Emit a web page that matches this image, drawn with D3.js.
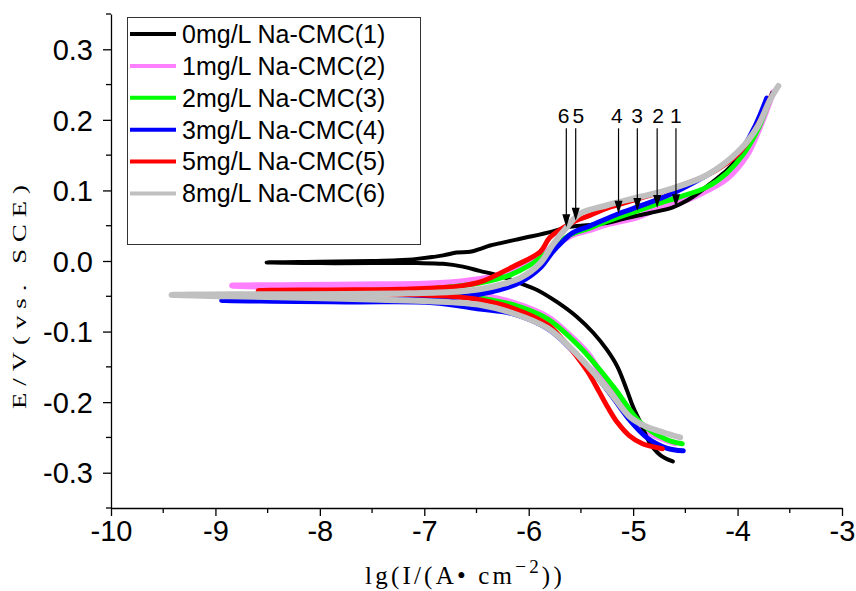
<!DOCTYPE html>
<html><head><meta charset="utf-8">
<script src="https://cdn.jsdelivr.net/npm/d3@7"></script>
<style>body{margin:0;background:#fff}svg{display:block}</style>
</head><body>
<svg id="c" width="856" height="591"></svg>
<script>
// ---- data ----
const xTickValues = [-10,-9,-8,-7,-6,-5,-4,-3];
const xTickLabels = ["-10","-9","-8","-7","-6","-5","-4","-3"];
const yTickValues = [-0.3,-0.2,-0.1,0,0.1,0.2,0.3];
const yTickLabels = ["-0.3","-0.2","-0.1","0.0","0.1","0.2","0.3"];
const seriesNames = ["0mg/L Na-CMC(1)","1mg/L Na-CMC(2)","2mg/L Na-CMC(3)","3mg/L Na-CMC(4)","5mg/L Na-CMC(5)","8mg/L Na-CMC(6)"];
const seriesColors = ["#000000","#ff80ff","#00ff00","#0000ff","#ff0000","#c0c0c0"];

const s1 = [[-4.62,-0.284],[-4.74,-0.275],[-4.84,-0.258],[-4.93,-0.229],[-5.00,-0.207],[-5.06,-0.183],[-5.15,-0.150],[-5.25,-0.126],[-5.38,-0.102],[-5.54,-0.079],[-5.73,-0.058],[-5.92,-0.041],[-6.11,-0.030],[-6.30,-0.020],[-6.47,-0.014],[-6.63,-0.008],[-6.82,-0.004],[-7.07,-0.003],[-7.50,-0.003],[-8.00,-0.003],[-8.51,-0.002],
[-8.00,-0.001],[-7.50,0.000],[-7.26,0.001],[-7.07,0.003],[-6.82,0.008],[-6.69,0.012],[-6.56,0.013],[-6.45,0.018],[-6.37,0.022],[-6.28,0.025],[-6.13,0.030],[-5.97,0.035],[-5.77,0.042],[-5.63,0.048],[-5.41,0.051],[-5.22,0.055],[-5.06,0.061],[-4.84,0.068],[-4.62,0.076],[-4.48,0.086],[-4.36,0.098],[-4.24,0.112],[-4.10,0.129],[-4.01,0.143],[-3.88,0.167],[-3.79,0.192],[-3.71,0.221],[-3.67,0.238]];
const s2 = [[-4.60,-0.258],[-4.81,-0.246],[-4.96,-0.229],[-5.13,-0.201],[-5.29,-0.164],[-5.44,-0.130],[-5.63,-0.102],[-5.82,-0.079],[-6.15,-0.059],[-6.37,-0.051],[-6.59,-0.044],[-6.95,-0.040],[-7.42,-0.038],[-8.19,-0.037],[-8.84,-0.035],
[-8.19,-0.034],[-7.42,-0.033],[-6.95,-0.032],[-6.59,-0.028],[-6.37,-0.023],[-6.18,-0.014],[-5.99,-0.001],[-5.84,0.013],[-5.72,0.025],[-5.58,0.037],[-5.41,0.044],[-5.25,0.052],[-4.96,0.062],[-4.77,0.074],[-4.55,0.083],[-4.36,0.095],[-4.10,0.117],[-3.91,0.150],[-3.79,0.188],[-3.66,0.239]];
const s3 = [[-4.53,-0.259],[-4.68,-0.253],[-4.93,-0.229],[-5.19,-0.178],[-5.51,-0.122],[-5.82,-0.082],[-6.15,-0.062],[-6.37,-0.055],[-6.59,-0.050],[-7.04,-0.047],[-7.71,-0.045],[-8.33,-0.044],
[-7.71,-0.042],[-7.04,-0.040],[-6.59,-0.034],[-6.37,-0.028],[-6.18,-0.020],[-5.99,-0.006],[-5.84,0.010],[-5.72,0.024],[-5.63,0.035],[-5.41,0.047],[-5.22,0.058],[-4.96,0.071],[-4.77,0.081],[-4.55,0.091],[-4.29,0.105],[-4.10,0.125],[-3.95,0.150],[-3.81,0.185],[-3.69,0.229]];
const s4 = [[-4.52,-0.269],[-4.68,-0.265],[-4.87,-0.250],[-5.03,-0.226],[-5.19,-0.194],[-5.38,-0.158],[-5.58,-0.127],[-5.82,-0.096],[-6.15,-0.075],[-6.47,-0.068],[-6.92,-0.059],[-7.71,-0.058],[-8.94,-0.056],
[-8.19,-0.056],[-7.23,-0.055],[-6.75,-0.052],[-6.47,-0.047],[-6.28,-0.041],[-6.08,-0.030],[-5.89,-0.010],[-5.77,0.013],[-5.68,0.027],[-5.58,0.040],[-5.41,0.050],[-5.14,0.067],[-4.93,0.078],[-4.62,0.096],[-4.36,0.116],[-4.17,0.133],[-3.98,0.154],[-3.83,0.192],[-3.72,0.231]];
const s5 = [[-4.72,-0.266],[-4.91,-0.259],[-5.04,-0.247],[-5.15,-0.229],[-5.24,-0.208],[-5.33,-0.184],[-5.43,-0.158],[-5.55,-0.133],[-5.67,-0.112],[-5.82,-0.090],[-6.15,-0.067],[-6.47,-0.055],[-6.75,-0.050],[-7.23,-0.047],[-7.90,-0.045],[-8.59,-0.042],
[-7.90,-0.041],[-7.23,-0.040],[-6.75,-0.037],[-6.47,-0.030],[-6.15,-0.008],[-5.89,0.013],[-5.80,0.033],[-5.67,0.047],[-5.55,0.057],[-5.41,0.065],[-5.25,0.075],[-4.93,0.089],[-4.62,0.103],[-4.29,0.122],[-4.10,0.139],[-3.98,0.154],[-3.85,0.181],[-3.72,0.218],[-3.68,0.233]];
const s6 = [[-4.55,-0.250],[-4.71,-0.243],[-4.87,-0.235],[-5.03,-0.221],[-5.19,-0.192],[-5.38,-0.158],[-5.58,-0.126],[-5.82,-0.095],[-6.15,-0.074],[-6.47,-0.062],[-6.95,-0.057],[-7.42,-0.055],[-8.19,-0.052],[-8.86,-0.050],[-9.42,-0.048],
[-8.86,-0.047],[-8.19,-0.047],[-7.23,-0.046],[-6.75,-0.044],[-6.47,-0.040],[-6.28,-0.034],[-6.08,-0.024],[-5.89,-0.003],[-5.77,0.023],[-5.64,0.047],[-5.51,0.067],[-5.25,0.079],[-4.93,0.091],[-4.62,0.103],[-4.29,0.122],[-3.98,0.157],[-3.81,0.190],[-3.69,0.228],[-3.61,0.248]];

const arrowLabels = ["6","5","4","3","2","1"];
const arrowX = [-5.64,-5.55,-5.14,-4.96,-4.77,-4.59];
const arrowLabelX = [-5.665,-5.525,-5.155,-4.963,-4.762,-4.59];
const arrowTipE = [0.048,0.057,0.067,0.071,0.075,0.076];
const arrowTopE = 0.188;
const arrowLabelE = 0.195;

// ---- drawing ----
const svg = d3.select("#c");
const x = d3.scaleLinear().domain([-10,-3]).range([111,842]);
const y = d3.scaleLinear().domain([-0.35,0.35]).range([508,14]);
const sans = "'Liberation Sans', Arial, sans-serif";
const serif = "'Liberation Serif', 'Times New Roman', serif";

// minor ticks
const xMinor = d3.range(-9.5,-3,1);
const yMinor = d3.range(-0.35,0.36,0.1);
svg.append("g").selectAll("line").data(xMinor).join("line")
  .attr("x1",d=>x(d)).attr("x2",d=>x(d)).attr("y1",508).attr("y2",513)
  .attr("stroke","#000").attr("stroke-width",1.3);
svg.append("g").selectAll("line").data(yMinor).join("line")
  .attr("x1",106).attr("x2",111).attr("y1",d=>y(d)).attr("y2",d=>y(d))
  .attr("stroke","#000").attr("stroke-width",1.3);

const xAxis = svg.append("g").attr("transform","translate(0,508)")
  .call(d3.axisBottom(x).tickValues(xTickValues).tickFormat((d,i)=>xTickLabels[i]).tickSizeInner(8).tickSizeOuter(0).tickPadding(4));
const yAxis = svg.append("g").attr("transform","translate(111,0)")
  .call(d3.axisLeft(y).tickValues(yTickValues).tickFormat((d,i)=>yTickLabels[i]).tickSizeInner(8).tickSizeOuter(0).tickPadding(10));
[xAxis,yAxis].forEach(a=>{
  a.select(".domain").attr("stroke","#000").attr("stroke-width",1.3);
  a.selectAll(".tick line").attr("stroke","#000").attr("stroke-width",1.3);
  a.selectAll(".tick text").attr("font-family",sans).attr("font-size",29).attr("fill","#000");
});
xAxis.selectAll(".tick text").attr("dy","0.72em");
yAxis.selectAll(".tick text").attr("dy","0.35em");

// axis titles
svg.append("text").attr("transform","translate(26,297) rotate(-90) scale(1.4,1)")
  .attr("text-anchor","middle").attr("font-family",serif).attr("font-size",19)
  .attr("textLength",160).attr("lengthAdjust","spacing")
  .text("E/V(vs. SCE)");
const xt = svg.append("text").attr("x",465).attr("y",584).attr("text-anchor","middle")
  .attr("font-family",serif).attr("font-size",25).attr("letter-spacing","3.2px");
xt.append("tspan").text("lg(I/(A•  cm");
xt.append("tspan").attr("dy",-11).attr("font-size",19).text("−2");
xt.append("tspan").attr("dy",11).text("))");

// curves
const line = d3.line().x(d=>x(d[0])).y(d=>y(d[1])).curve(d3.curveCatmullRom.alpha(0.5));
const allSeries = [s1,s2,s3,s4,s5,s6];
const widths = [4,6,5,5,5,6];
const drawOrder = [1,0,2,3,4,5];
svg.append("g").selectAll("path").data(drawOrder).join("path")
  .attr("d",i=>line(allSeries[i])).attr("fill","none")
  .attr("stroke",i=>seriesColors[i]).attr("stroke-width",i=>widths[i])
  .attr("stroke-linejoin","round").attr("stroke-linecap","round");

// arrows
const ag = svg.append("g");
arrowX.forEach((ax,i)=>{
  const px = x(ax), top = y(arrowTopE), tip = y(arrowTipE[i]);
  ag.append("line").attr("x1",px).attr("x2",px).attr("y1",top).attr("y2",tip-10)
    .attr("stroke","#000").attr("stroke-width",1.2);
  ag.append("path").attr("d",`M${px-4},${tip-13}L${px+4},${tip-13}L${px},${tip}Z`).attr("fill","#000");
  ag.append("text").attr("x",x(arrowLabelX[i])).attr("y",y(arrowLabelE)).attr("text-anchor","middle")
    .attr("font-family",sans).attr("font-size",21).text(arrowLabels[i]);
});

// legend
const lg = svg.append("g");
lg.append("rect").attr("x",127.5).attr("y",17.5).attr("width",293).attr("height",227)
  .attr("fill","#fff").attr("stroke","#333").attr("stroke-width",1);
seriesNames.forEach((n,i)=>{
  const yy = 34 + i*31.9;
  lg.append("line").attr("x1",130).attr("x2",176).attr("y1",yy).attr("y2",yy)
    .attr("stroke",seriesColors[i]).attr("stroke-width",4);
  lg.append("text").attr("x",182).attr("y",yy+8.8).attr("font-family",sans).attr("font-size",25)
    .text(n);
});
</script>
</body></html>
